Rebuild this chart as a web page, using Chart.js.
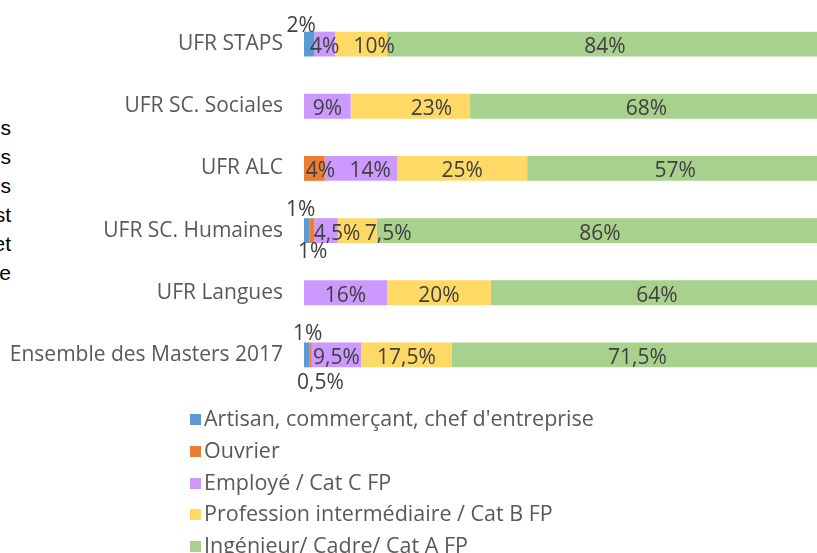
<!DOCTYPE html>
<html>
<head>
<meta charset="utf-8">
<script src="https://cdn.jsdelivr.net/npm/chart.js@4/dist/chart.umd.min.js"></script>
<style>
  html, body { margin: 0; padding: 0; background: #fff; overflow: hidden; width: 817px; height: 553px; }
  #wrap { position: absolute; left: 0; top: -27px; width: 840px; height: 453px; }
  #side { position: absolute; left: -100px; top: 113px; width: 111px; text-align: right;
          font: 21px "Liberation Sans", Arial, sans-serif; line-height: 29px; color: #000; }
  #legend { position: absolute; left: 190px; top: 402px; margin: 0; padding: 0; list-style: none;
            font: 21.5px "Open Sans", sans-serif; color: #595959; }
  #legend li { height: 31.8px; line-height: 31.8px; white-space: nowrap; }
  #legend span { display: inline-block; width: 11px; height: 11px; margin-right: 3px; vertical-align: 1px; }
</style>
</head>
<body>
<div id="side">s<br>s<br>s<br>st<br>et<br>e</div>
<div id="wrap"><canvas id="chart" width="840" height="453"></canvas></div>
<ul id="legend"></ul>
<script>
window.onload = function () {

  let categories = ["UFR STAPS", "UFR SC. Sociales", "UFR ALC", "UFR SC. Humaines", "UFR Langues", "Ensemble des Masters 2017"];

  let artisan      = [2, 0, 0, 1, 0, 1];
  let ouvrier      = [0, 0, 4, 1, 0, 0.5];
  let employe      = [4, 9, 14, 4.5, 16, 9.5];
  let intermediair = [10, 23, 25, 7.5, 20, 17.5];
  let cadre        = [84, 68, 57, 86, 64, 71.5];

  let seriesNames = ["Artisan, commerçant, chef d'entreprise", "Ouvrier", "Employé / Cat C FP",
                     "Profession intermédiaire / Cat B FP", "Ingénieur/ Cadre/ Cat A FP"];
  let colors = ["#5b9bd5", "#ed7d31", "#cc99ff", "#ffd966", "#a9d18e"];

  // labels that sit off-centre so they don't collide: "dataset:index" -> [dx, dy]
  let labelNudge = {
    "0:0": [-8, -21],
    "0:3": [-6, -24], "1:3": [1, 18],
    "0:5": [1, -24],  "1:5": [10, 25],
    "3:0": [13, 0], "3:1": [21, 0],
    "2:3": [11, 0], "3:3": [31, 0],
    "1:2": [6, 0],  "2:2": [9, 0]
  };

  let font = "'Open Sans', sans-serif";

  // percent labels on every segment
  let valueLabels = {
    id: "valueLabels",
    afterDatasetsDraw(chart) {
      let ctx = chart.ctx;
      ctx.save();
      ctx.font = "21px " + font;
      ctx.fillStyle = "#404040";
      ctx.textAlign = "center";
      ctx.textBaseline = "middle";
      chart.data.datasets.forEach((ds, i) => {
        chart.getDatasetMeta(i).data.forEach((bar, j) => {
          let v = ds.data[j];
          if (!v) return;
          let n = labelNudge[i + ":" + j] || [0, 0];
          let x = (bar.x + bar.base) / 2 + n[0];
          ctx.fillText(String(v).replace(".", ",") + "%", x, bar.y + 3 + n[1]);
        });
      });
      ctx.restore();
    }
  };

  let chart = new Chart(document.getElementById("chart"), {
    type: "bar",
    data: {
      labels: categories,
      datasets: [artisan, ouvrier, employe, intermediair, cadre].map((d, i) => ({
        label: seriesNames[i],
        data: d,
        backgroundColor: colors[i],
        borderWidth: 0,
        categoryPercentage: 0.8,
        barPercentage: 0.5
      }))
    },
    options: {
      indexAxis: "y",
      responsive: false,
      animation: false,
      // top/bottom padding larger than the tick label padding so it sets the plot area
      layout: { padding: { left: 0, top: 40, right: 17, bottom: 40 } },
      scales: {
        x: { stacked: true, min: 0, max: 100, display: false },
        y: {
          stacked: true,
          grid: { display: false, drawTicks: false },
          border: { display: false },
          ticks: { color: "#595959", font: { family: font, size: 21 }, padding: 21 },
          afterFit(scale) { scale.width = 304; }
        }
      },
      plugins: { legend: { display: false }, tooltip: { enabled: false } }
    },
    plugins: [valueLabels]
  });

  // legend as a vertical list under the chart
  let ul = document.getElementById("legend");
  Chart.defaults.plugins.legend.labels.generateLabels(chart).forEach(item => {
    let li = document.createElement("li");
    let box = document.createElement("span");
    box.style.background = item.fillStyle;
    li.appendChild(box);
    li.appendChild(document.createTextNode(item.text));
    ul.appendChild(li);
  });

};
</script>
</body>
</html>
